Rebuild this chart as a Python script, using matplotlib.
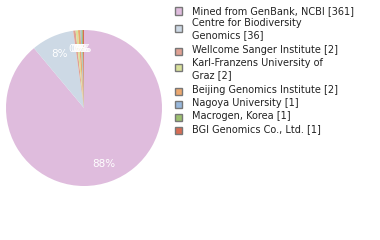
import matplotlib
matplotlib.use("Agg")
import matplotlib.pyplot as plt
import math

labels = ["Mined from GenBank, NCBI [361]",
          "Centre for Biodiversity\nGenomics [36]",
          "Wellcome Sanger Institute [2]",
          "Karl-Franzens University of\nGraz [2]",
          "Beijing Genomics Institute [2]",
          "Nagoya University [1]",
          "Macrogen, Korea [1]",
          "BGI Genomics Co., Ltd. [1]"]
values = [361, 36, 2, 2, 2, 1, 1, 1]
colors = ["#dfbcdd", "#cdd9e5", "#e0a193", "#d9e19b", "#eca86f", "#98b8dc", "#9cc06f", "#d86c53"]
legend_y = [11, 28, 51, 67, 91, 104, 117, 130]
text_y = [11, 29, 50, 69, 90, 103, 116, 129]

W, H = 380, 240
fig = plt.figure(figsize=(W / 100, H / 100), dpi=100)
cx, cy, r = 84, 108, 78
ax = fig.add_axes([(cx - r) / W, (H - cy - r) / H, 2 * r / W, 2 * r / H])

def pct(p):
    return "%d%%" % int(math.floor(p + 1e-9))

wedges, texts, autotexts = ax.pie(values, colors=colors, startangle=90, counterclock=False,
                                  autopct=pct, pctdistance=0.76,
                                  textprops=dict(color="white", fontsize=7.5, family="DejaVu Sans"))
ax.set_xlim(-1, 1)
ax.set_ylim(-1, 1)
ax.set_aspect("equal")
ax.axis("off")

sq = 7
for lab, col, y, ty in zip(labels, colors, legend_y, text_y):
    fig.patches.append(plt.Rectangle((174.5 / W, (H - y - sq / 2) / H), sq / W, sq / H,
                                     transform=fig.transFigure, facecolor=col,
                                     edgecolor="#777777", linewidth=1.0))
    fig.text(192 / W, (H - ty) / H, lab, ha="left", va="center", fontsize=7,
             family="DejaVu Sans", color="#222222", linespacing=1.25)

fig.savefig("out.png", dpi=100)
